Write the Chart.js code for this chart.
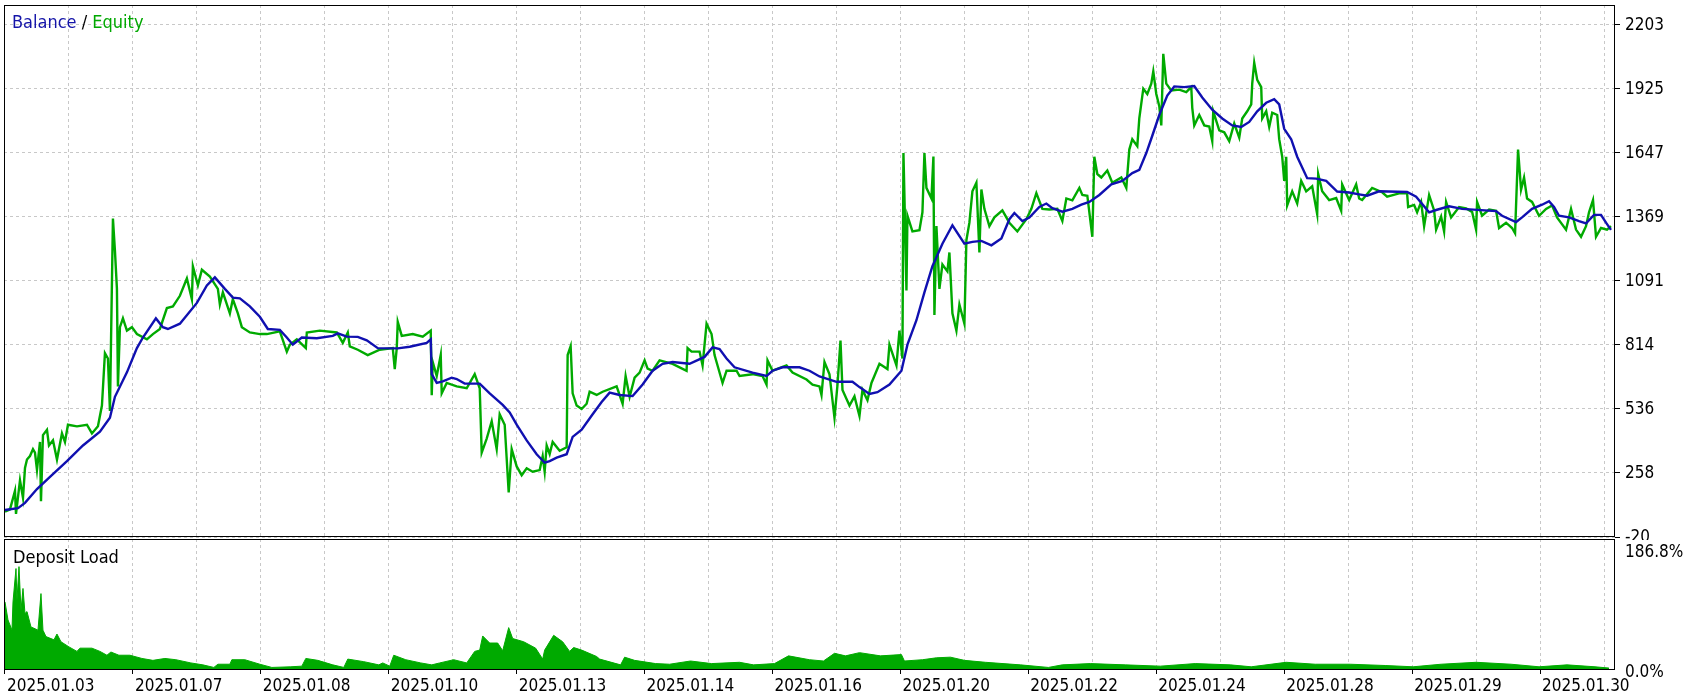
<!DOCTYPE html>
<html>
<head>
<meta charset="utf-8">
<script src="https://cdn.jsdelivr.net/npm/chart.js@4.4.1/dist/chart.umd.min.js"></script>
<style>
  html, body { margin: 0; padding: 0; background: #fff; }
  #wrap { position: relative; width: 1700px; height: 699px; overflow: hidden; }
  #mainBox { position: absolute; left: 0; top: 0; width: 1700px; height: 540px; }
  #loadBox { position: absolute; left: 0; top: 538px; width: 1700px; height: 161px; }
  canvas { display: block; }
  .caption { position: absolute; font: 18px 'DejaVu Sans Condensed', 'Liberation Sans', sans-serif; line-height: 20px; white-space: nowrap; }
</style>
</head>
<body>
<div id="wrap">
  <div id="mainBox"><canvas id="balance_chart" width="1700" height="540"></canvas></div>
  <div id="loadBox"><canvas id="load_chart" width="1700" height="161"></canvas></div>
  <div class="caption" style="left:12px;top:12px"><span style="color:#1414a8">Balance</span> / <span style="color:#00a800">Equity</span></div>
  <div class="caption" style="left:13px;top:547px;color:#000">Deposit Load</div>
</div>
<script>
// dates shown under every second grid column
const dateLabels = ['2025.01.03', '2025.01.07', '2025.01.08', '2025.01.10', '2025.01.13', '2025.01.14',
    '2025.01.16', '2025.01.20', '2025.01.22', '2025.01.24', '2025.01.28', '2025.01.29', '2025.01.30'];
const gridStep = 64;     // deals per grid column
const lastDeal = 1611;

const balanceTicks = [-20, 258, 536, 814, 1091, 1369, 1647, 1925, 2203];
const loadTicks = [0, 186.8];

// balance (deal number / value)
const balanceX = [0, 13, 20, 32, 45, 62, 78, 95, 105, 110, 122, 132, 138, 151, 158, 163, 175, 192, 202, 210,
    220, 228, 235, 245, 255, 263, 275, 282, 288, 297, 312, 328, 333, 342, 353, 362, 373, 393, 405, 422,
    426, 427, 432, 438, 447, 452, 460, 475, 485, 498, 505, 512, 522, 532, 540, 545, 552, 562, 568, 577,
    588, 597, 605, 615, 628, 638, 648, 658, 668, 685, 700, 708, 715, 722, 730, 748, 762, 768, 778, 795,
    805, 815, 832, 848, 855, 865, 873, 885, 897, 903, 912, 920, 928, 938, 948, 960, 968, 977, 987, 997,
    1005, 1010, 1018, 1025, 1035, 1042, 1048, 1058, 1068, 1077, 1085, 1095, 1107, 1118, 1128, 1135, 1142, 1148, 1155, 1163,
    1170, 1180, 1190, 1198, 1208, 1218, 1228, 1237, 1245, 1253, 1262, 1270, 1275, 1280, 1287, 1293, 1303, 1312, 1322, 1333,
    1345, 1355, 1363, 1375, 1403, 1412, 1425, 1432, 1445, 1458, 1492, 1498, 1512, 1518, 1528, 1538, 1545, 1550, 1555, 1565,
    1575, 1582, 1590, 1597, 1602, 1607];
const balanceY = [97, 105, 128, 188, 241, 309, 377, 437, 497, 588, 694, 799, 845, 928, 890, 882, 905, 995, 1071, 1106,
    1056, 1018, 1015, 980, 935, 882, 878, 845, 814, 845, 842, 852, 863, 849, 848, 833, 799, 798, 805, 822,
    837, 686, 648, 655, 671, 665, 645, 645, 603, 553, 520, 467, 399, 339, 302, 309, 324, 339, 414, 445,
    512, 565, 606, 596, 591, 641, 701, 731, 739, 731, 761, 802, 795, 754, 716, 693, 678, 701, 716, 716,
    701, 676, 653, 653, 630, 600, 608, 641, 701, 814, 920, 1041, 1154, 1252, 1332, 1252, 1260, 1264, 1245, 1275,
    1358, 1385, 1350, 1365, 1411, 1426, 1406, 1391, 1403, 1421, 1433, 1463, 1509, 1524, 1558, 1572, 1645, 1720, 1810, 1894,
    1934, 1931, 1936, 1886, 1833, 1795, 1765, 1758, 1780, 1826, 1863, 1879, 1856, 1750, 1705, 1629, 1536, 1534, 1524, 1478,
    1474, 1466, 1460, 1479, 1476, 1456, 1388, 1398, 1414, 1403, 1393, 1373, 1346, 1366, 1403, 1421, 1436, 1411, 1373, 1366,
    1350, 1340, 1377, 1377, 1343, 1312];

// equity
const equityX = [0, 5, 10, 11, 15, 18, 20, 22, 25, 28, 30, 32, 35, 36, 38, 42, 44, 48, 52, 57,
    60, 63, 72, 82, 87, 93, 97, 100, 103, 105, 108, 110, 112, 113, 115, 118, 122, 127, 132, 142,
    148, 155, 162, 168, 175, 182, 187, 188, 193, 197, 205, 213, 215, 218, 225, 228, 233, 237, 245, 255,
    262, 275, 282, 285, 292, 301, 302, 315, 332, 338, 343, 345, 353, 363, 375, 388, 390, 392, 393, 397,
    408, 418, 426, 427, 428, 432, 436, 437, 442, 452, 462, 470, 475, 477, 482, 487, 492, 495, 500, 504,
    507, 512, 517, 522, 528, 535, 538, 540, 542, 545, 548, 555, 562, 563, 566, 568, 572, 577, 582, 585,
    592, 598, 612, 618, 621, 625, 630, 635, 640, 643, 648, 655, 668, 682, 683, 687, 695, 698, 702, 707,
    710, 718, 722, 732, 735, 748, 758, 762, 763, 768, 782, 788, 802, 808, 815, 817, 820, 825, 830, 833,
    836, 838, 845, 850, 855, 858, 863, 867, 875, 883, 885, 892, 895, 898, 899, 900, 902, 903, 908, 915,
    918, 920, 922, 927, 929, 930, 932, 935, 938, 943, 945, 948, 952, 955, 960, 962, 965, 968, 972, 975,
    977, 980, 985, 990, 998, 1005, 1013, 1022, 1027, 1032, 1038, 1045, 1053, 1058, 1062, 1068, 1075, 1078, 1083, 1088,
    1090, 1093, 1097, 1103, 1108, 1117, 1122, 1125, 1128, 1133, 1135, 1139, 1143, 1147, 1149, 1152, 1155, 1157, 1159, 1162,
    1167, 1175, 1182, 1187, 1188, 1190, 1195, 1200, 1205, 1208, 1209, 1215, 1220, 1225, 1230, 1235, 1238, 1243, 1247, 1248,
    1250, 1253, 1257, 1258, 1262, 1265, 1268, 1273, 1275, 1278, 1280, 1282, 1283, 1288, 1293, 1297, 1302, 1308, 1313, 1314,
    1318, 1325, 1332, 1337, 1338, 1345, 1352, 1355, 1358, 1368, 1378, 1383, 1395, 1403, 1404, 1410, 1413, 1417, 1420, 1425,
    1430, 1432, 1437, 1440, 1442, 1447, 1455, 1462, 1468, 1472, 1473, 1478, 1485, 1492, 1495, 1502, 1508, 1511, 1512, 1514,
    1517, 1520, 1523, 1528, 1535, 1542, 1548, 1553, 1562, 1567, 1572, 1577, 1582, 1585, 1589, 1592, 1597, 1603, 1607];
const equityY = [90, 100, 180, 80, 226, 150, 279, 316, 331, 361, 346, 271, 392, 135, 422, 445, 377, 399, 316, 429,
    392, 467, 460, 467, 429, 460, 550, 777, 754, 527, 1361, 1222, 1056, 633, 890, 928, 875, 890, 860, 837,
    860, 882, 973, 980, 1026, 1101, 1011, 1154, 1071, 1139, 1109, 1056, 988, 1041, 950, 1011, 950, 890, 867, 860,
    860, 872, 784, 814, 837, 799, 867, 875, 867, 822, 867, 807, 792, 769, 792, 799, 708, 799, 913, 852,
    860, 849, 875, 595, 739, 678, 769, 603, 648, 633, 625, 686, 625, 346, 407, 482, 361, 512, 467, 173,
    361, 286, 248, 278, 263, 270, 331, 263, 377, 340, 392, 354, 369, 769, 807, 603, 550, 535, 558, 610,
    596, 610, 633, 558, 678, 588, 671, 693, 746, 710, 701, 746, 731, 701, 799, 784, 784, 724, 905, 860,
    769, 648, 701, 701, 678, 686, 678, 641, 746, 701, 724, 693, 663, 641, 633, 596, 739, 686, 497, 640,
    832, 618, 550, 590, 505, 618, 573, 648, 731, 708, 814, 724, 875, 754, 1645, 1456, 1049, 1373, 1305, 1310,
    1388, 1645, 1494, 1448, 1630, 943, 1328, 1056, 1162, 1132, 1214, 950, 875, 988, 905, 1267, 1343, 1479, 1516, 1214,
    1487, 1403, 1328, 1366, 1396, 1343, 1305, 1358, 1403, 1471, 1403, 1400, 1403, 1350, 1448, 1440, 1494, 1463, 1460, 1282,
    1629, 1554, 1539, 1569, 1516, 1539, 1494, 1660, 1705, 1675, 1795, 1924, 1901, 1946, 1999, 1901, 1848, 1765, 2075, 1946,
    1916, 1920, 1909, 1931, 1841, 1765, 1810, 1765, 1760, 1697, 1826, 1743, 1735, 1697, 1773, 1712, 1795, 1826, 1856, 1946,
    2037, 1962, 1931, 1795, 1826, 1758, 1820, 1810, 1705, 1629, 1524, 1629, 1418, 1479, 1426, 1524, 1479, 1501, 1380, 1554,
    1479, 1441, 1450, 1395, 1509, 1441, 1509, 1448, 1441, 1494, 1475, 1456, 1470, 1470, 1411, 1420, 1388, 1433, 1328, 1463,
    1396, 1313, 1370, 1305, 1433, 1366, 1411, 1405, 1390, 1313, 1433, 1373, 1400, 1395, 1320, 1343, 1320, 1297, 1418, 1660,
    1486, 1539, 1448, 1433, 1373, 1403, 1418, 1366, 1313, 1403, 1313, 1282, 1328, 1388, 1441, 1282, 1320, 1313, 1328];

// deposit load, %
const loadX = [0, 3, 7, 8, 11, 12, 14, 16, 18, 20, 22, 26, 29, 33, 36, 38, 41, 49, 52, 56,
    64, 72, 75, 87, 95, 102, 106, 114, 125, 137, 148, 160, 171, 186, 198, 209, 213, 225, 227, 240,
    255, 267, 286, 297, 301, 313, 328, 339, 343, 359, 374, 378, 385, 389, 401, 416, 427, 435, 449, 462,
    470, 475, 478, 485, 493, 498, 504, 508, 519, 531, 538, 540, 549, 558, 565, 569, 577, 592, 595, 616,
    620, 630, 651, 665, 686, 707, 735, 749, 770, 784, 805, 819, 830, 841, 855, 876, 897, 900, 918, 932,
    946, 960, 981, 1016, 1044, 1058, 1086, 1121, 1156, 1191, 1226, 1247, 1282, 1311, 1346, 1381, 1409, 1437, 1472, 1507,
    1535, 1563, 1591, 1605];
const loadY = [106, 78, 62, 106, 158, 109, 161, 93, 127, 88, 91, 67, 65, 62, 119, 62, 52, 47, 56, 44,
    36, 29, 34, 34, 29, 23, 28, 23, 23, 18, 15, 18, 16, 11, 8, 4, 9, 9, 16, 16,
    9, 4, 5, 6, 18, 15, 8, 4, 17, 13, 8, 11, 6, 23, 16, 11, 8, 11, 16, 11,
    29, 31, 53, 42, 42, 30, 66, 49, 44, 34, 17, 31, 54, 44, 29, 35, 31, 21, 17, 8,
    20, 15, 10, 9, 14, 10, 12, 8, 10, 22, 16, 14, 26, 22, 27, 22, 24, 14, 16, 19,
    20, 15, 12, 8, 4, 8, 10, 8, 6, 10, 8, 5, 12, 9, 9, 7, 5, 9, 12, 9,
    5, 8, 5, 3];

const FONT = { family: "'DejaVu Sans Condensed', 'Liberation Sans', sans-serif", size: 17 };
const GRID = '#c8c8c8';

function toPoints(xs, ys) {
    return xs.map((x, i) => ({ x: x, y: ys[i] }));
}

// black frame round the plot area
const framePlugin = {
    id: 'frame',
    afterDraw(chart) {
        const a = chart.chartArea;
        const ctx = chart.ctx;
        ctx.save();
        ctx.strokeStyle = '#000';
        ctx.lineWidth = 1;
        ctx.strokeRect(Math.round(a.left) + 0.5, Math.round(a.top) + 0.5,
            Math.round(a.right - a.left) - 1, Math.round(a.bottom - a.top) - 1);
        ctx.restore();
    }
};

function dealAxis(withLabels) {
    return {
        type: 'linear',
        min: -1,
        max: lastDeal,
        afterBuildTicks: function (scale) {
            const t = [];
            for (let i = 0; i * gridStep <= lastDeal; i++) t.push({ value: i * gridStep });
            scale.ticks = t;
        },
        afterFit: function (scale) {
            scale.height = withLabels ? 29 : 0;
            scale.paddingLeft = 0;
            scale.paddingRight = 0;
        },
        grid: {
            color: GRID,
            drawTicks: withLabels,
            tickLength: 4,
            tickColor: c => (c.index % 2 ? 'rgba(0,0,0,0)' : '#000')
        },
        border: { display: false, dash: [3, 3] },
        ticks: {
            display: withLabels,
            autoSkip: false,
            maxRotation: 0,
            align: 'start',
            padding: 2,
            labelOffset: 2,
            color: '#000',
            font: FONT,
            callback: (v, i) => (i % 2 ? '' : dateLabels[i / 2])
        }
    };
}

const baseOptions = {
    responsive: false,
    animation: false,
    events: [],
    plugins: { legend: { display: false }, tooltip: { enabled: false } }
};

// ==== Balance / Equity ====
new Chart(document.getElementById('balance_chart').getContext('2d'), {
    type: 'line',
    data: {
        datasets: [
            {
                label: 'Balance',
                data: toPoints(balanceX, balanceY),
                borderColor: '#1010b0',
                borderWidth: 2.4,
                pointRadius: 0
            },
            {
                label: 'Equity',
                data: toPoints(equityX, equityY),
                borderColor: '#00aa00',
                borderWidth: 2.4,
                pointRadius: 0
            }
        ]
    },
    options: Object.assign({}, baseOptions, {
        layout: { padding: { left: 4, top: 5, right: 0, bottom: 3 } },
        scales: {
            x: dealAxis(false),
            y: {
                position: 'right',
                min: -20,
                max: 2287,
                afterBuildTicks: function (scale) {
                    scale.ticks = balanceTicks.map(v => ({ value: v }));
                },
                afterFit: function (scale) {
                    scale.width = 85;
                    scale.paddingTop = 0;
                    scale.paddingBottom = 0;
                },
                grid: { color: GRID, tickColor: '#000', tickLength: 5 },
                border: { display: false, dash: [3, 3] },
                ticks: { color: '#000', font: FONT, padding: 5, labelOffset: 1, callback: v => String(v) }
            }
        }
    }),
    plugins: [framePlugin]
});

// ==== Deposit Load ====
new Chart(document.getElementById('load_chart').getContext('2d'), {
    type: 'line',
    data: {
        datasets: [{
            label: 'Deposit Load',
            data: toPoints(loadX, loadY),
            borderColor: '#00aa00',
            backgroundColor: '#00aa00',
            borderWidth: 1,
            pointRadius: 0,
            fill: 'origin'
        }]
    },
    options: Object.assign({}, baseOptions, {
        layout: { padding: { left: 4, top: 1, right: 0, bottom: 0 } },
        scales: {
            x: dealAxis(true),
            y: {
                position: 'right',
                min: 0,
                max: 204,
                afterBuildTicks: function (scale) {
                    scale.ticks = loadTicks.map(v => ({ value: v }));
                },
                afterFit: function (scale) {
                    scale.width = 85;
                    scale.paddingTop = 0;
                    scale.paddingBottom = 0;
                },
                grid: { drawOnChartArea: false, drawTicks: false },
                border: { display: false },
                ticks: { color: '#000', font: FONT, padding: 10, labelOffset: 3, callback: v => v.toFixed(1) + '%' }
            }
        }
    }),
    plugins: [framePlugin]
});
</script>
</body>
</html>
